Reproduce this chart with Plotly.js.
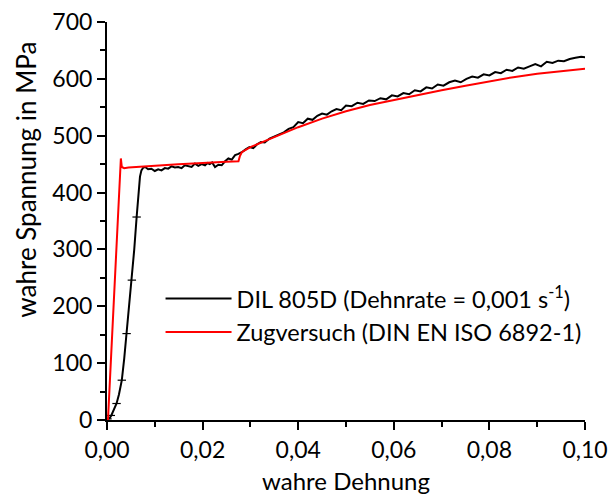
<!DOCTYPE html>
<html>
<head>
<meta charset="utf-8">
<script src="https://cdn.plot.ly/plotly-3.0.1.min.js"></script>
<style>html,body{margin:0;padding:0;background:#fff;}#chart{width:610px;height:495px;}</style>
</head>
<body>
<div id="chart"></div>
<script>
// DIL 805D (black) – true strain / true stress
const dilX = [0, 0.0003, 0.0006, 0.0009, 0.0012, 0.0016, 0.0020, 0.0025, 0.0031, 0.0036, 0.0041, 0.0047, 0.0052, 0.0057, 0.0062, 0.0066, 0.0069, 0.0072, 0.0076, 0.0080,
  0.0086, 0.0093, 0.0100, 0.0107, 0.0114, 0.0121, 0.0128, 0.0135, 0.0142, 0.0149, 0.0156, 0.0163, 0.0170, 0.0177, 0.0184, 0.0191, 0.0198, 0.0205, 0.0210, 0.0215, 0.0220, 0.0226, 0.0233, 0.0240, 0.0247, 0.0254, 0.0261, 0.0268, 0.0275, 0.0282,
  0.0290, 0.0298, 0.0306, 0.0314, 0.0322, 0.0330, 0.0340, 0.0350, 0.0360, 0.0370, 0.0380, 0.0390, 0.0400, 0.0410, 0.0420, 0.0430, 0.0440, 0.0450, 0.0460, 0.0470, 0.0480, 0.0490, 0.0500,
  0.0512, 0.0524, 0.0536, 0.0548, 0.0560, 0.0572, 0.0584, 0.0596, 0.0608, 0.0620, 0.0632, 0.0644, 0.0656, 0.0668, 0.0680, 0.0692, 0.0704, 0.0716, 0.0728, 0.0740, 0.0752, 0.0764, 0.0776, 0.0788, 0.0800,
  0.0812, 0.0824, 0.0836, 0.0848, 0.0860, 0.0872, 0.0884, 0.0896, 0.0908, 0.0920, 0.0932, 0.0944, 0.0956, 0.0968, 0.0980, 0.0992, 0.1002];
const dilY = [0, 2, 4, 8, 13, 20, 29, 45, 70, 108, 152, 200, 246, 300, 357, 400, 428, 439, 444, 445,
  441, 442, 438, 441, 439, 443, 442, 446, 444, 445, 443, 448, 446, 445, 451, 447, 450, 448, 452, 450, 453, 445, 449, 448, 455, 460, 458, 466, 468, 471,
  476, 480, 478, 485, 489, 488, 495, 499, 503, 506, 512, 515, 524, 522, 530, 528, 535, 539, 537, 543, 547, 545, 553,
  552, 558, 556, 562, 561, 566, 564, 571, 569, 575, 573, 580, 578, 585, 583, 590, 588, 594, 597, 594, 600, 604, 602, 608, 606,
  612, 610, 616, 614, 620, 618, 622, 626, 622, 630, 628, 632, 631, 635, 637, 639, 638];

// small cross markers on the DIL curve (elastic range)
const crossX = [0.0001, 0.0008, 0.0020, 0.0031, 0.0041, 0.0052, 0.0062];
const crossY = [2, 8, 29, 70, 152, 246, 357];

// Zugversuch (red)
const zugX = [0.0002, 0.0029, 0.0031, 0.0036, 0.0045, 0.0060, 0.0080, 0.0100, 0.0120, 0.0149, 0.0180, 0.0219, 0.0250, 0.0275, 0.0278, 0.0282,
  0.0300, 0.0340, 0.0400, 0.0450, 0.0500, 0.0550, 0.0600, 0.0650, 0.0700, 0.0750, 0.0800, 0.0850, 0.0900, 0.0950, 0.1000];
const zugY = [0, 460, 445, 443, 444, 445, 446, 447, 448, 450, 451, 452, 454, 455, 464, 471,
  480, 494, 515, 530, 543, 554, 563, 572, 580, 588, 596, 603, 609, 614, 618];

const xTicks = [0, 0.02, 0.04, 0.06, 0.08, 0.10];
const xTickText = ['0,00', '0,02', '0,04', '0,06', '0,08', '0,10'];
const yTicks = [0, 100, 200, 300, 400, 500, 600, 700];

const FONT = 'Lato, "Open Sans", sans-serif';

const traces = [
  {x: dilX, y: dilY, type: 'scatter', mode: 'lines', name: 'DIL 805D (Dehnrate = 0,001 s<sup>-1</sup>)',
   line: {color: '#000000', width: 2}},
  {x: crossX, y: crossY, type: 'scatter', mode: 'markers', showlegend: false, hoverinfo: 'skip',
   marker: {symbol: 'line-ew', size: 6, line: {color: '#000000', width: 1.2}}},
  {x: zugX, y: zugY, type: 'scatter', mode: 'lines', name: 'Zugversuch (DIN EN ISO 6892-1)',
   line: {color: '#ff0000', width: 2}}
];

const axisCommon = {
  showline: true, linecolor: '#000', linewidth: 2, mirror: false,
  ticks: 'outside', ticklen: 8, tickwidth: 2, tickcolor: '#000',
  showgrid: false, zeroline: false,
  tickfont: {family: FONT, size: 23, color: '#000'}
};

const layout = {
  width: 610, height: 495,
  margin: {l: 107, r: 25, t: 22, b: 75, pad: 0},
  paper_bgcolor: '#fff', plot_bgcolor: '#fff',
  font: {family: FONT, size: 23, color: '#000'},
  separators: ',.',
  showlegend: true,
  legend: {x: 0.112, y: 0.36, xanchor: 'left', yanchor: 'top', bgcolor: 'rgba(0,0,0,0)',
    font: {family: FONT, size: 23.5, color: '#000'}, itemwidth: 66, tracegroupgap: 0},
  xaxis: Object.assign({}, axisCommon, {
    range: [0, 0.10], tickvals: xTicks, ticktext: xTickText,
    minor: {tickvals: [0.01, 0.03, 0.05, 0.07, 0.09], ticks: 'outside', ticklen: 5, tickwidth: 2, tickcolor: '#000'},
    title: {text: 'wahre Dehnung', font: {family: FONT, size: 24, color: '#000'}, standoff: 12}
  }),
  yaxis: Object.assign({}, axisCommon, {
    range: [0, 700], tickvals: yTicks,
    minor: {dtick: 50, ticks: 'outside', ticklen: 5, tickwidth: 2, tickcolor: '#000'}
  }),
  annotations: [{
    text: 'wahre Spannung in MPa', textangle: -90, xref: 'paper', yref: 'paper',
    x: -0.17, y: 0.603, xanchor: 'center', yanchor: 'middle', showarrow: false,
    font: {family: FONT, size: 26, color: '#000'}
  }]
};

Plotly.newPlot('chart', traces, layout, {displayModeBar: false, staticPlot: true});
</script>
</body>
</html>
